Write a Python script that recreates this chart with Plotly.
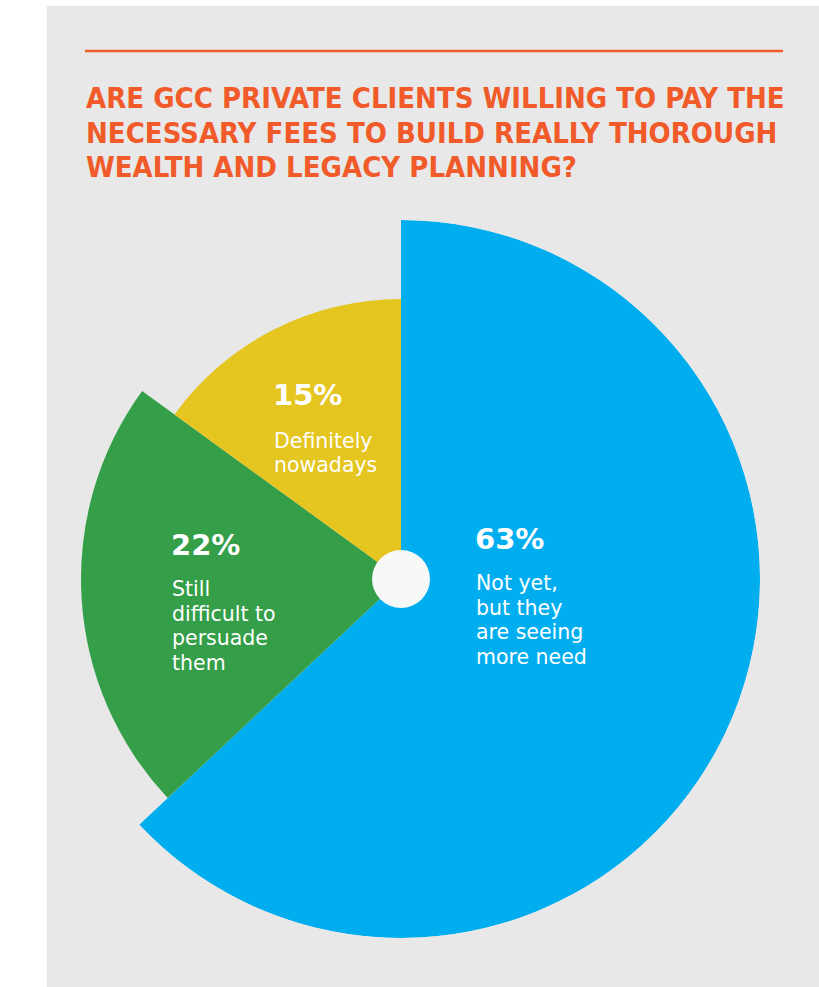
import plotly.graph_objects as go

# ---- data ----
categories = ["Not yet, but they are seeing more need",
              "Still difficult to persuade them",
              "Definitely nowadays"]
shares = [63, 22, 15]
pct_labels = ["63%", "22%", "15%"]
desc_lines = [["Not yet,", "but they", "are seeing", "more need"],
              ["Still", "difficult to", "persuade", "them"],
              ["Definitely", "nowadays"]]
title_lines = ["ARE GCC PRIVATE CLIENTS WILLING TO PAY THE",
               "NECESSARY FEES TO BUILD REALLY THOROUGH",
               "WEALTH AND LEGACY PLANNING?"]

# ---- styling ----
colors = ["#00aeef", "#349e48", "#e5c51f"]
radius = [359, 320, 280]          # visual outer radius of each slice (px scale)
W, H = 819, 987
CX, CY, RMAX = 401, 579, 359      # pie centre / max radius in px
ORANGE = "#f15a29"
BG = "#e8e8e8"

# angular positions from shares
widths = [s / 100 * 360 for s in shares]
thetas = []
start = 0
for w in widths:
    thetas.append(start + w / 2)
    start += w

fig = go.Figure()
fig.add_trace(go.Barpolar(
    r=radius, theta=thetas, width=widths,
    marker=dict(color=colors, line=dict(width=0)),
    hoverinfo="skip", showlegend=False,
))

def px_x(x):
    return x / W

def px_y(y):
    return 1 - y / H

fig.update_layout(
    width=W, height=H,
    margin=dict(l=0, r=0, t=0, b=0),
    paper_bgcolor="white",
    plot_bgcolor="rgba(0,0,0,0)",
    polar=dict(
        domain=dict(x=[px_x(CX - RMAX), px_x(CX + RMAX)],
                    y=[px_y(CY + RMAX), px_y(CY - RMAX)]),
        bgcolor="rgba(0,0,0,0)",
        radialaxis=dict(visible=False, range=[0, RMAX]),
        angularaxis=dict(visible=False, direction="clockwise", rotation=90),
        bargap=0,
    ),
)

shapes = [
    # grey panel
    dict(type="rect", xref="paper", yref="paper", layer="below",
         x0=px_x(47), x1=1.0, y0=0, y1=px_y(6),
         fillcolor=BG, line=dict(width=0)),
    # orange rule
    dict(type="line", xref="paper", yref="paper", layer="above",
         x0=px_x(85), x1=px_x(783), y0=px_y(51), y1=px_y(51),
         line=dict(color=ORANGE, width=2.5)),
    # centre hole
    dict(type="circle", xref="paper", yref="paper", layer="above",
         x0=px_x(CX - 29), x1=px_x(CX + 29),
         y0=px_y(CY + 29), y1=px_y(CY - 29),
         fillcolor="#f7f8f8", line=dict(width=0)),
]
fig.update_layout(shapes=shapes)

annotations = []
title_font = dict(family="DejaVu Sans Condensed, Liberation Sans Narrow, DejaVu Sans, sans-serif",
                  size=29, color=ORANGE, weight="bold")
for i, line in enumerate(title_lines):
    annotations.append(dict(
        text=line, xref="paper", yref="paper", x=px_x(84), y=px_y(98 + i * 34.5),
        xanchor="left", yanchor="middle", showarrow=False, font=title_font))

pct_pos = [(473, 539), (169, 545), (271, 395)]
desc_x = [474, 170, 272]
desc_y0 = [583, 589, 441]
LINE_STEP = 24.5
for i in range(3):
    annotations.append(dict(
        text=pct_labels[i], xref="paper", yref="paper",
        x=px_x(pct_pos[i][0]), y=px_y(pct_pos[i][1]),
        xanchor="left", yanchor="middle", showarrow=False,
        font=dict(family="DejaVu Sans, sans-serif", size=29, color="white", weight="bold")))
    for j, ln in enumerate(desc_lines[i]):
        annotations.append(dict(
            text=ln, xref="paper", yref="paper",
            x=px_x(desc_x[i]), y=px_y(desc_y0[i] + j * LINE_STEP),
            xanchor="left", yanchor="middle", align="left", showarrow=False,
            font=dict(family="DejaVu Sans, sans-serif", size=20.5, color="white")))
fig.update_layout(annotations=annotations)

fig.write_html("out.html")
